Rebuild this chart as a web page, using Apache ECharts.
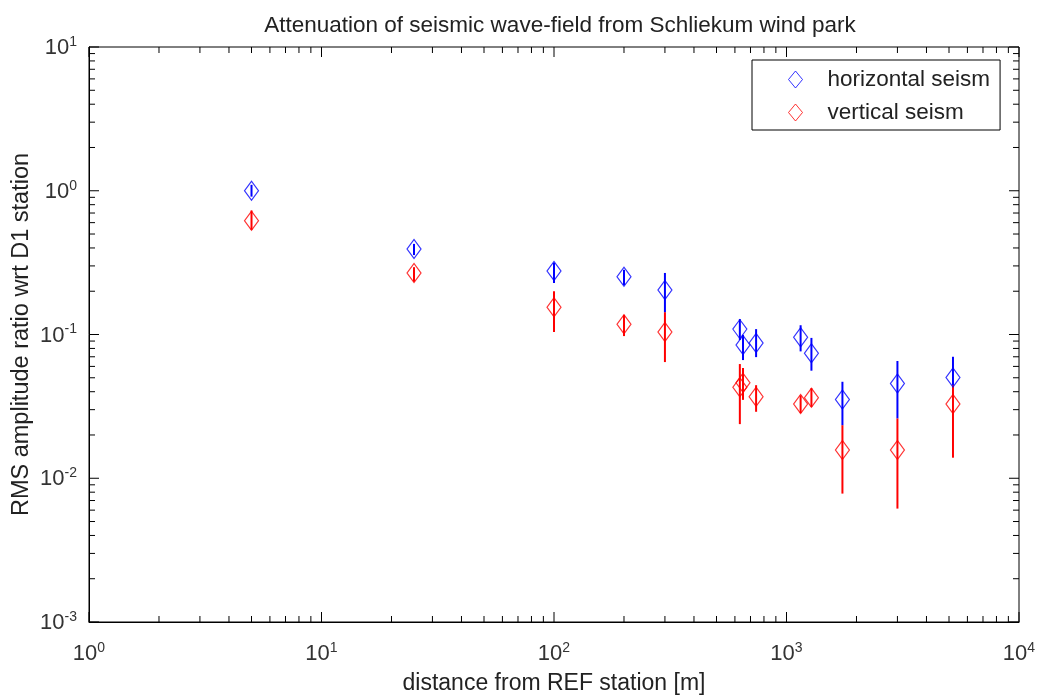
<!DOCTYPE html>
<html><head><meta charset="utf-8">
<script src="https://cdn.jsdelivr.net/npm/echarts@6/dist/echarts.min.js"></script>
<style>html,body{margin:0;padding:0;background:#fff}#c{width:1037px;height:695px}</style>
</head><body><div id="c"></div>
<script>
const distances = [5, 25, 100, 200, 300, 630, 650, 740, 1150, 1280, 1740, 3000, 5200];
const horizontal = [1.0, 0.394, 0.277, 0.252, 0.204, 0.109, 0.0845, 0.0873, 0.0956, 0.074, 0.0353, 0.0457, 0.0503];
const horizontalHigh = [1.10, 0.427, 0.315, 0.282, 0.268, 0.128, 0.0994, 0.109, 0.116, 0.0947, 0.0469, 0.0654, 0.070];
const horizontalLow = [0.91, 0.357, 0.228, 0.221, 0.143, 0.0916, 0.0664, 0.0696, 0.0763, 0.056, 0.0234, 0.0261, 0.0445];
const vertical = [0.618, 0.268, 0.155, 0.118, 0.104, 0.0429, 0.0462, 0.0369, 0.0328, 0.0363, 0.0157, 0.0157, 0.0328];
const verticalHigh = [0.729, 0.294, 0.200, 0.137, 0.143, 0.0623, 0.0585, 0.0444, 0.0377, 0.0423, 0.0234, 0.0261, 0.0445];
const verticalLow = [0.535, 0.233, 0.104, 0.0975, 0.0643, 0.0238, 0.0351, 0.0290, 0.0284, 0.0314, 0.00782, 0.00615, 0.0139];
const xDecades = [1, 10, 100, 1000, 10000];
const yDecades = [0.001, 0.01, 0.1, 1, 10];
const title = 'Attenuation of seismic wave-field from Schliekum wind park';
const xTitle = 'distance from REF station [m]';
const yTitle = 'RMS amplitude ratio wrt D1 station';
const names = ['horizontal seism', 'vertical seism'];

const FONT = '"Liberation Sans", Arial, sans-serif';
const X0 = 1, X1 = 10000, Y0 = 0.001, Y1 = 10;

function minorList(decs) {
  const out = [];
  for (let i = 0; i < decs.length - 1; i++) for (let k = 2; k <= 9; k++) out.push(decs[i] * k);
  return out;
}
const xTicks = xDecades.map(v => [v, 1]).concat(minorList(xDecades).map(v => [v, 0]));
const yTicks = yDecades.map(v => [v, 1]).concat(minorList(yDecades).map(v => [v, 0]));

function labelFmt(v) {
  const e = Math.round(Math.log10(v));
  return '{b|10}{s|' + e + '}';
}
const rich = {
  b: { fontFamily: FONT, fontSize: 22, color: '#333', verticalAlign: 'bottom', lineHeight: 24 },
  s: { fontFamily: FONT, fontSize: 14, color: '#333', verticalAlign: 'top', lineHeight: 14, padding: [0, 0, 14, 0] }
};

function errRender(params, api) {
  const x = api.value(0), lo = api.value(1), hi = api.value(2);
  const p1 = api.coord([x, lo]), p2 = api.coord([x, hi]);
  return { type: 'line', shape: { x1: p1[0], y1: p1[1], x2: p2[0], y2: p2[1] },
    style: { stroke: api.visual('color'), lineWidth: 2 } };
}
function xTickRender(params, api) {
  const v = api.value(0), major = api.value(1);
  const L = major ? 10 : 6;
  const b = api.coord([v, Y0]), t = api.coord([v, Y1]);
  return { type: 'group', children: [
    { type: 'line', shape: { x1: b[0], y1: b[1], x2: b[0], y2: b[1] - L }, style: { stroke: '#000', lineWidth: 1 } },
    { type: 'line', shape: { x1: t[0], y1: t[1], x2: t[0], y2: t[1] + L }, style: { stroke: '#000', lineWidth: 1 } }
  ]};
}
function yTickRender(params, api) {
  const v = api.value(0), major = api.value(1);
  const L = major ? 10 : 6;
  const l = api.coord([X0, v]), r = api.coord([X1, v]);
  return { type: 'group', children: [
    { type: 'line', shape: { x1: l[0], y1: l[1], x2: l[0] + L, y2: l[1] }, style: { stroke: '#000', lineWidth: 1 } },
    { type: 'line', shape: { x1: r[0], y1: r[1], x2: r[0] - L, y2: r[1] }, style: { stroke: '#000', lineWidth: 1 } }
  ]};
}

const chart = echarts.init(document.getElementById('c'), null, { renderer: 'canvas' });
chart.setOption({
  backgroundColor: '#fff',
  animation: false,
  title: { text: title, left: 555, top: 9, textAlign: 'center',
    textStyle: { fontFamily: FONT, fontSize: 22.5, fontWeight: 'normal', color: '#222' } },
  legend: {
    orient: 'vertical', left: 752, top: 60,
    backgroundColor: '#fff', borderColor: '#000', borderWidth: 1, borderRadius: 0,
    padding: [8, 10, 6, 34], itemGap: 10, itemWidth: 14, itemHeight: 17,
    textStyle: { fontFamily: FONT, fontSize: 22.5, color: '#222', lineHeight: 20, padding: [0, 0, 0, 20] },
    data: [
      { name: names[0], icon: 'diamond', itemStyle: { color: 'none', borderColor: '#0000ff', borderWidth: 1 } },
      { name: names[1], icon: 'diamond', itemStyle: { color: 'none', borderColor: '#ff0000', borderWidth: 1 } }
    ]
  },
  grid: { left: 89, right: 18, top: 47, bottom: 73, show: true, borderColor: '#000', borderWidth: 1,
    backgroundColor: '#fff', containLabel: false, outerBoundsMode: 'none' },
  xAxis: {
    type: 'log', logBase: 10, min: X0, max: X1,
    name: xTitle, nameLocation: 'middle', nameGap: 50, nameMoveOverlap: false,
    nameTextStyle: { fontFamily: FONT, fontSize: 23, color: '#222' },
    axisLine: { show: true, onZero: false, lineStyle: { color: '#000', width: 1 } },
    axisTick: { show: false }, splitLine: { show: false },
    axisLabel: { formatter: labelFmt, rich: rich, margin: 19, color: '#333' }
  },
  yAxis: {
    type: 'log', logBase: 10, min: Y0, max: Y1,
    name: yTitle, nameLocation: 'middle', nameGap: 55, nameMoveOverlap: false,
    nameTextStyle: { fontFamily: FONT, fontSize: 23.5, color: '#222' },
    axisLine: { show: true, onZero: false, lineStyle: { color: '#000', width: 1 } },
    axisTick: { show: false }, splitLine: { show: false },
    axisLabel: { formatter: labelFmt, rich: rich, margin: 12, color: '#333' }
  },
  series: [
    { type: 'custom', name: 'xticks', renderItem: xTickRender, data: xTicks, silent: true, clip: false, z: 1 },
    { type: 'custom', name: 'yticks', renderItem: yTickRender, data: yTicks, silent: true, clip: false, z: 1 },
    { type: 'custom', name: names[1] + ' err', renderItem: errRender, itemStyle: { color: '#ff0000' },
      data: distances.map((d, i) => [d, verticalLow[i], verticalHigh[i]]), z: 2 },
    { type: 'custom', name: names[0] + ' err', renderItem: errRender, itemStyle: { color: '#0000ff' },
      data: distances.map((d, i) => [d, horizontalLow[i], horizontalHigh[i]]), z: 2 },
    { type: 'scatter', name: names[0], symbol: 'diamond', symbolSize: [14, 19],
      itemStyle: { color: 'none', borderColor: '#0000ff', borderWidth: 1.2 },
      data: distances.map((d, i) => [d, horizontal[i]]), z: 3 },
    { type: 'scatter', name: names[1], symbol: 'diamond', symbolSize: [14, 19],
      itemStyle: { color: 'none', borderColor: '#ff0000', borderWidth: 1.2 },
      data: distances.map((d, i) => [d, vertical[i]]), z: 3 }
  ]
});
</script></body></html>
